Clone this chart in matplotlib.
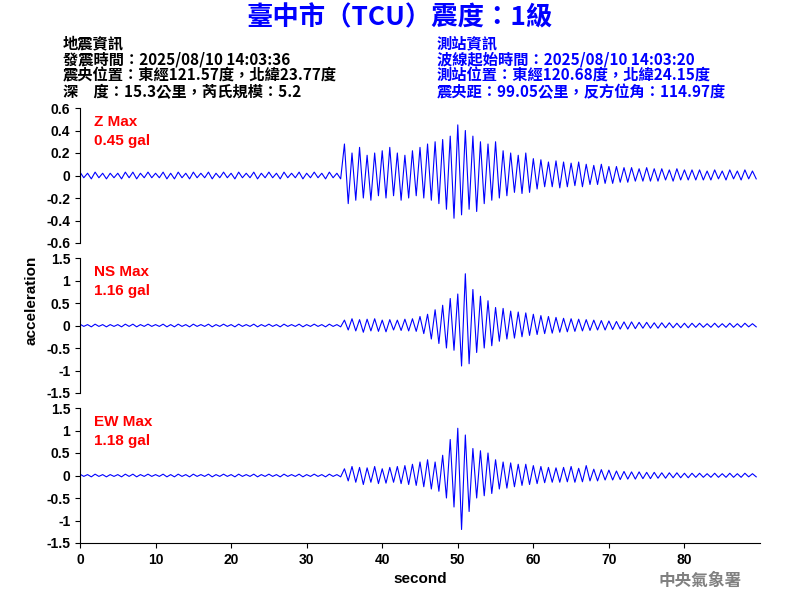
import numpy as np
import matplotlib
matplotlib.use("Agg")
import matplotlib.pyplot as plt

plt.rcParams['font.family'] = ['Liberation Sans', 'Noto Sans CJK TC', 'DejaVu Sans']

# ── Data (peak values every 0.5 s) ───────────────────────────────────────────
STEP = 0.5
QUIET = [0.03, -0.02, 0.02, -0.03, 0.03, -0.02, 0.02, -0.03, 0.02, -0.02,
         0.02, -0.03, 0.03, -0.02, 0.03, -0.03, 0.02, -0.02, 0.03, -0.02,
         0.02, -0.02, 0.03, -0.03, 0.02, -0.03, 0.03, -0.02, 0.02, -0.03,
         0.03, -0.02, 0.02, -0.02, 0.03, -0.03, 0.02, -0.02, 0.03, -0.02,
         0.02, -0.03, 0.03, -0.02, 0.02, -0.02, 0.03, -0.03, 0.02, -0.02,
         0.03, -0.02, 0.02, -0.03, 0.03, -0.02, 0.02, -0.02, 0.03, -0.03,
         0.02, -0.02, 0.03, -0.02, 0.02, -0.03, 0.03, -0.02, 0.02, -0.03]
TAIL = [0.05, -0.05, 0.05, -0.04, 0.05, -0.04, 0.04, -0.04, 0.05, -0.04,
        0.04, -0.04, 0.05, -0.04, 0.04, -0.04, 0.05, -0.03, 0.04, -0.03]

z_vals = QUIET + [
    0.28, -0.25, 0.2, -0.22, 0.25, -0.2, 0.18, -0.22, 0.2, -0.18,
    0.22, -0.2, 0.25, -0.18, 0.2, -0.22, 0.18, -0.2, 0.22, -0.18,
    0.25, -0.2, 0.28, -0.22, 0.3, -0.25, 0.32, -0.3, 0.35, -0.38,
    0.45, -0.35, 0.4, -0.3, 0.35, -0.32, 0.3, -0.25, 0.28, -0.22,
    0.3, -0.2, 0.22, -0.18, 0.2, -0.15, 0.18, -0.16, 0.2, -0.15,
    0.15, -0.12, 0.14, -0.1, 0.12, -0.1, 0.13, -0.11, 0.12, -0.1,
    0.11, -0.09, 0.12, -0.1, 0.1, -0.08, 0.09, -0.08, 0.1, -0.07,
    0.08, -0.07, 0.08, -0.06, 0.07, -0.06, 0.07, -0.05, 0.06, -0.05,
    0.07, -0.05, 0.06, -0.05, 0.06, -0.04, 0.05, -0.05, 0.06, -0.04,
    0.05, -0.04, 0.05, -0.04, 0.05, -0.04, 0.04, -0.04, 0.05, -0.03,
    0.04, -0.04, 0.05, -0.03, 0.04, -0.04, 0.05, -0.03, 0.04, -0.03]

ns_vals = QUIET + [
    0.12, -0.1, 0.15, -0.12, 0.13, -0.15, 0.14, -0.12, 0.15, -0.13,
    0.12, -0.14, 0.13, -0.1, 0.12, -0.11, 0.14, -0.12, 0.15, -0.13,
    0.2, -0.18, 0.25, -0.3, 0.35, -0.4, 0.45, -0.5, 0.6, -0.55,
    0.7, -0.9, 1.15, -0.85, 0.8, -0.6, 0.65, -0.5, 0.55, -0.45,
    0.4, -0.35, 0.38, -0.3, 0.32, -0.28, 0.3, -0.25, 0.28, -0.22,
    0.25, -0.2, 0.22, -0.18, 0.2, -0.17, 0.18, -0.15, 0.16, -0.14,
    0.15, -0.13, 0.14, -0.12, 0.13, -0.11, 0.12, -0.1, 0.11, -0.1,
    0.1, -0.09, 0.09, -0.08, 0.08, -0.08, 0.08, -0.07, 0.07, -0.06,
    0.07, -0.06, 0.06, -0.06, 0.06, -0.05, 0.06, -0.05, 0.05, -0.05] + TAIL

ew_vals = QUIET + [
    0.15, -0.12, 0.2, -0.15, 0.18, -0.2, 0.17, -0.15, 0.2, -0.18,
    0.15, -0.17, 0.18, -0.15, 0.2, -0.18, 0.22, -0.2, 0.25, -0.22,
    0.3, -0.25, 0.35, -0.3, 0.3, -0.35, 0.45, -0.5, 0.8, -0.7,
    1.05, -1.2, 0.9, -0.8, 0.6, -0.5, 0.55, -0.45, 0.5, -0.4,
    0.35, -0.3, 0.3, -0.28, 0.28, -0.25, 0.25, -0.22, 0.25, -0.2,
    0.22, -0.18, 0.2, -0.16, 0.18, -0.15, 0.17, -0.15, 0.18, -0.14,
    0.2, -0.15, 0.16, -0.14, 0.22, -0.12, 0.14, -0.12, 0.13, -0.1,
    0.12, -0.1, 0.1, -0.09, 0.09, -0.08, 0.08, -0.08, 0.08, -0.07,
    0.07, -0.07, 0.07, -0.06, 0.06, -0.06, 0.06, -0.05, 0.06, -0.05] + TAIL

labels = ["Z Max\n0.45 gal", "NS Max\n1.16 gal", "EW Max\n1.18 gal"]
limits = [0.6, 1.5, 1.5]
ticks = [[0.6, 0.4, 0.2, 0, -0.2, -0.4, -0.6],
         [1.5, 1, 0.5, 0, -0.5, -1, -1.5],
         [1.5, 1, 0.5, 0, -0.5, -1, -1.5]]

left_info = ["地震資訊", "發震時間：2025/08/10 14:03:36",
             "震央位置：東經121.57度，北緯23.77度", "深　度：15.3公里，芮氏規模：5.2"]
right_info = ["測站資訊", "波線起始時間：2025/08/10 14:03:20",
              "測站位置：東經120.68度，北緯24.15度", "震央距：99.05公里，反方位角：114.97度"]

CJK = ["Noto Sans CJK TC", "DejaVu Sans"]

# ── Figure ───────────────────────────────────────────────────────────────────
fig = plt.figure(figsize=(8, 6), dpi=100)
boxes = [(0.595, 0.82), (0.345, 0.57), (0.095, 0.32)]
traces = [z_vals, ns_vals, ew_vals]

for i, (vals, (b, t)) in enumerate(zip(traces, boxes)):
    ax = fig.add_axes([0.1, b, 0.85, t - b])
    x = np.arange(len(vals)) * STEP
    ax.plot(x, vals, color="blue", lw=0.8)
    ax.set_xlim(0, 90)
    ax.set_ylim(-limits[i], limits[i])
    ax.set_yticks(ticks[i])
    ax.set_yticklabels([f"{v:g}" for v in ticks[i]], fontsize=10, fontweight="bold")
    for s in ["top", "right"]:
        ax.spines[s].set_visible(False)
    if i < 2:
        ax.spines["bottom"].set_visible(False)
        ax.set_xticks([])
    else:
        ax.set_xticks(range(0, 90, 10))
        ax.set_xticklabels([str(v) for v in range(0, 90, 10)], fontsize=10, fontweight="bold")
        ax.set_xlabel("second", fontsize=11, fontweight="bold")
    ax.text(0.02, 0.95, labels[i], transform=ax.transAxes, color="red",
            fontsize=11, fontweight="bold", va="top", linespacing=1.5)

fig.text(0.04, 0.5, "acceleration", rotation=90, fontsize=11, fontweight="bold",
         ha="center", va="center")

fig.text(0.5, 0.97, "臺中市（TCU）震度：1級", color="blue", fontsize=19,
         fontweight="bold", ha="center", va="center", family=CJK)
for j, (l, r) in enumerate(zip(left_info, right_info)):
    y = 0.928 - j * 0.027
    fig.text(0.079, y, l, fontsize=11, fontweight="bold", va="center", family=CJK)
    fig.text(0.546, y, r, fontsize=11, fontweight="bold", va="center", color="blue",
             family=CJK)
fig.text(0.875, 0.032, "中央氣象署", color="grey", fontsize=12, fontweight="bold",
         ha="center", va="center", family=CJK)

fig.savefig("out.png", dpi=100, facecolor="white")
